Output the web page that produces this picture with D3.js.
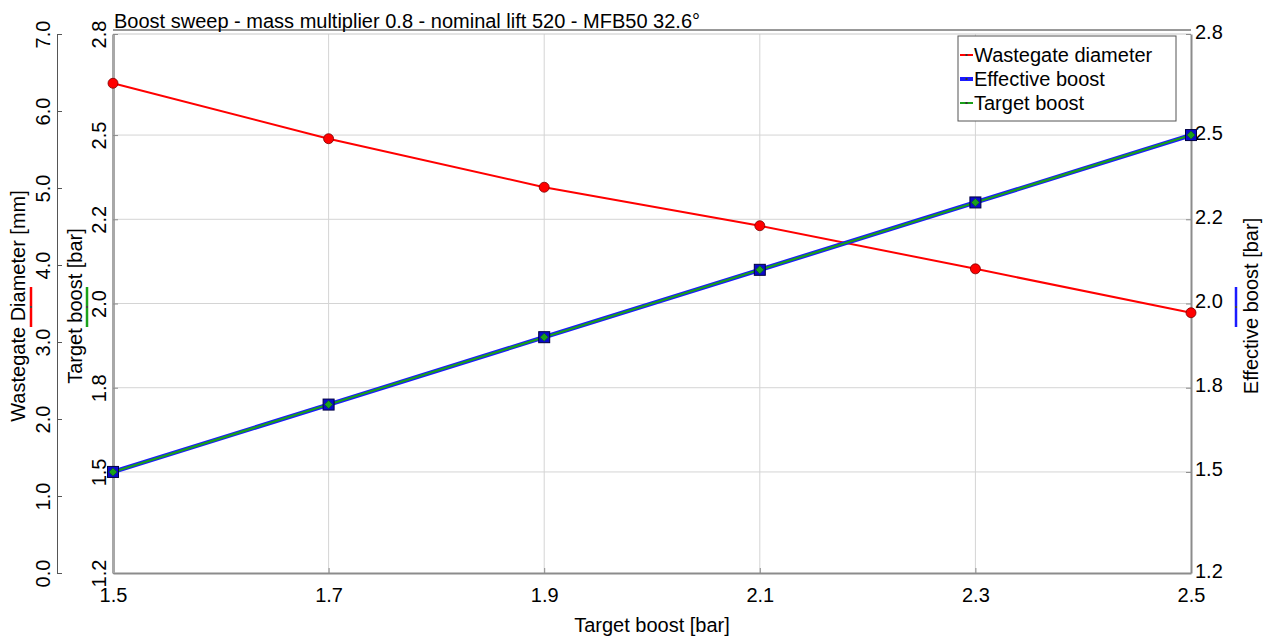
<!DOCTYPE html>
<html>
<head>
<meta charset="utf-8">
<script src="https://cdn.jsdelivr.net/npm/d3@7"></script>
<style>
  html, body { margin: 0; padding: 0; background: #fff; }
  svg { display: block; font-family: "Liberation Sans", Arial, sans-serif; }
</style>
</head>
<body>
<svg id="chart" width="1269" height="637"></svg>
<script>
// ---- data ----
const targetBoost = [1.5, 1.7, 1.9, 2.1, 2.3, 2.5];
const wastegateDiameter = [6.36, 5.64, 5.01, 4.51, 3.95, 3.38];
const effectiveBoost = [1.5, 1.7, 1.9, 2.1, 2.3, 2.5];
const targetBoostY = [1.5, 1.7, 1.9, 2.1, 2.3, 2.5];

const xTicks = [1.5, 1.7, 1.9, 2.1, 2.3, 2.5];
const xTickLabels = ["1.5", "1.7", "1.9", "2.1", "2.3", "2.5"];
const boostTicks = [1.2, 1.5, 1.75, 2.0, 2.25, 2.5, 2.8];
const boostTickLabels = ["1.2", "1.5", "1.8", "2.0", "2.2", "2.5", "2.8"];
const wgTicks = [0, 1, 2, 3, 4, 5, 6, 7];
const wgTickLabels = ["0.0", "1.0", "2.0", "3.0", "4.0", "5.0", "6.0", "7.0"];

const titleText = "Boost sweep - mass multiplier 0.8 - nominal lift 520 - MFB50 32.6°";
const legendNames = ["Wastegate diameter", "Effective boost", "Target boost"];

// ---- layout ----
const L = 113, R = 1191, T = 34, B = 573;
const svg = d3.select("#chart");

const x = d3.scaleLinear().domain([1.5, 2.5]).range([L, R]);
const yB = d3.scaleLinear().domain([1.2, 2.8]).range([B, T]);
const yW = d3.scaleLinear().domain([0, 7]).range([B, T]);

const gridColor = "#d4d4d4";
const axisColor = "#8c8c8c";
const fs = 20;

// grid
const grid = svg.append("g");
grid.selectAll(".gx").data(xTicks.slice(1, -1)).join("line")
  .attr("x1", d => x(d)).attr("x2", d => x(d)).attr("y1", T).attr("y2", B)
  .attr("stroke", gridColor).attr("stroke-width", 1);
grid.selectAll(".gy").data(boostTicks.slice(1, -1)).join("line")
  .attr("x1", L).attr("x2", R).attr("y1", d => yB(d)).attr("y2", d => yB(d))
  .attr("stroke", gridColor).attr("stroke-width", 1);

// frame
svg.append("line").attr("x1", L).attr("x2", R).attr("y1", T).attr("y2", T).attr("stroke", "#c8c8c8");
svg.append("line").attr("x1", L).attr("x2", R).attr("y1", 30).attr("y2", 30).attr("stroke", "#333").attr("stroke-width", 1);

// Bottom axis
const xAxis = d3.axisBottom(x).tickValues(xTicks).tickFormat((d, i) => xTickLabels[i]).tickSize(5).tickSizeOuter(0);
const gx = svg.append("g").attr("transform", `translate(0,${B})`).call(xAxis);
gx.select(".domain").attr("stroke", axisColor).attr("stroke-width", 2);
gx.selectAll(".tick line").attr("stroke", axisColor).attr("y2", -5);
gx.selectAll(".tick text").attr("font-size", fs).attr("font-family", "Liberation Sans, Arial").attr("fill", "#000").attr("dy", "1.05em");

// Left axis (target boost) at plot edge
const yAxisB = d3.axisLeft(yB).tickValues(boostTicks).tickFormat((d, i) => boostTickLabels[i]).tickSize(5).tickSizeOuter(0);
const gyb = svg.append("g").attr("transform", `translate(${L},0)`).call(yAxisB);
gyb.select(".domain").attr("stroke", "#a8a8a8").attr("stroke-width", 3);
gyb.selectAll(".tick line").attr("stroke", axisColor).attr("x2", 5);
gyb.selectAll(".tick text")
  .attr("font-size", fs).attr("fill", "#000").attr("x", 0).attr("dy", 0)
  .attr("text-anchor", "middle")
  .attr("transform", "translate(-5,0) rotate(-90)")
  .attr("dy", "-0.1em");

// Far-left axis (wastegate diameter)
const WX = 57;
const yAxisW = d3.axisRight(yW).tickValues(wgTicks).tickFormat((d, i) => wgTickLabels[i]).tickSize(5).tickSizeOuter(0);
const gyw = svg.append("g").attr("transform", `translate(${WX},0)`).call(yAxisW);
gyw.select(".domain").attr("stroke", "#555").attr("stroke-width", 1);
gyw.selectAll(".tick line").attr("stroke", "#555");
gyw.selectAll(".tick text")
  .attr("font-size", fs).attr("fill", "#000").attr("x", 0).attr("dy", 0)
  .attr("text-anchor", "middle")
  .attr("transform", "translate(-5,0) rotate(-90)")
  .attr("dy", "-0.1em");

// Right axis (effective boost)
const yAxisE = d3.axisRight(yB).tickValues(boostTicks).tickFormat((d, i) => boostTickLabels[i]).tickSize(5).tickSizeOuter(0);
const gye = svg.append("g").attr("transform", `translate(${R},0)`).call(yAxisE);
gye.select(".domain").attr("stroke", axisColor).attr("stroke-width", 2);
gye.selectAll(".tick line").attr("stroke", axisColor).attr("x2", -5);
gye.selectAll(".tick text").attr("font-size", fs).attr("fill", "#000").attr("x", 4).attr("dy", "0.2em");

// Lines
const lineB = d3.line().x((d, i) => x(targetBoost[i])).y(d => yB(d));
const lineW = d3.line().x((d, i) => x(targetBoost[i])).y(d => yW(d));

svg.append("path").datum(wastegateDiameter).attr("d", lineW)
  .attr("fill", "none").attr("stroke", "#ff0000").attr("stroke-width", 2);
svg.append("path").datum(effectiveBoost).attr("d", lineB)
  .attr("fill", "none").attr("stroke", "#1a1aff").attr("stroke-width", 4.5);
svg.append("path").datum(targetBoostY).attr("d", lineB)
  .attr("fill", "none").attr("stroke", "#1aa11a").attr("stroke-width", 2.2);

// markers
svg.selectAll(".mw").data(wastegateDiameter).join("circle")
  .attr("cx", (d, i) => x(targetBoost[i])).attr("cy", d => yW(d)).attr("r", 5)
  .attr("fill", "#ff0000").attr("stroke", "#7a0000").attr("stroke-width", 0.8);
svg.selectAll(".me").data(effectiveBoost).join("rect")
  .attr("x", (d, i) => x(targetBoost[i]) - 5.5).attr("y", d => yB(d) - 5.5)
  .attr("width", 11).attr("height", 11)
  .attr("fill", "#0a0acc").attr("stroke", "#000040").attr("stroke-width", 1);
svg.selectAll(".mt").data(targetBoostY).join("path")
  .attr("d", (d, i) => { const cx = x(targetBoost[i]), cy = yB(d); return `M${cx},${cy-4}L${cx+4},${cy}L${cx},${cy+4}L${cx-4},${cy}Z`; })
  .attr("fill", "#1aa11a").attr("stroke", "#0d5a0d").attr("stroke-width", 0.5);

// Title
svg.append("text").attr("x", L + 1).attr("y", 28).attr("font-size", 20).attr("fill", "#000").text(titleText);

// X label
svg.append("text").attr("x", 652).attr("y", 632).attr("text-anchor", "middle")
  .attr("font-size", 20).attr("fill", "#000").text("Target boost [bar]");

// Y axis labels with colour samples
function yLabel(xpos, text, rot, color, sx) {
  svg.append("text").attr("transform", `translate(${xpos},306) rotate(${rot})`)
    .attr("text-anchor", "middle").attr("dy", "0.35em").attr("font-size", 20).attr("fill", "#000").text(text);
  svg.append("line").attr("x1", sx).attr("x2", sx).attr("y1", 287).attr("y2", 327)
    .attr("stroke", color).attr("stroke-width", 2.5);
  svg.append("rect").attr("x", sx - 1).attr("y", 306).attr("width", 2).attr("height", 2).attr("fill", "#444");
}
yLabel(18, "Wastegate Diameter [mm]", -90, "#ff0000", 31);
yLabel(75, "Target boost [bar]", -90, "#1aa11a", 87);
yLabel(1251, "Effective boost [bar]", -90, "#1a1aff", 1236);

// Legend
const lg = svg.append("g");
lg.append("rect").attr("x", 958).attr("y", 36).attr("width", 218).attr("height", 85)
  .attr("fill", "#fff").attr("stroke", "#555").attr("stroke-width", 1);
const legColors = ["#ff0000", "#1a1aff", "#1aa11a"];
const legWidths = [2, 4, 2];
legendNames.forEach((name, i) => {
  const yy = 55 + i * 24;
  lg.append("line").attr("x1", 960).attr("x2", 973).attr("y1", yy).attr("y2", yy)
    .attr("stroke", legColors[i]).attr("stroke-width", legWidths[i]);
  lg.append("rect").attr("x", 965.5).attr("y", yy - 1).attr("width", 2).attr("height", 2).attr("fill", "#333");
  lg.append("text").attr("x", 974).attr("y", yy).attr("dy", "0.35em").attr("font-size", 20).attr("fill", "#000").text(name);
});
</script>
</body>
</html>
